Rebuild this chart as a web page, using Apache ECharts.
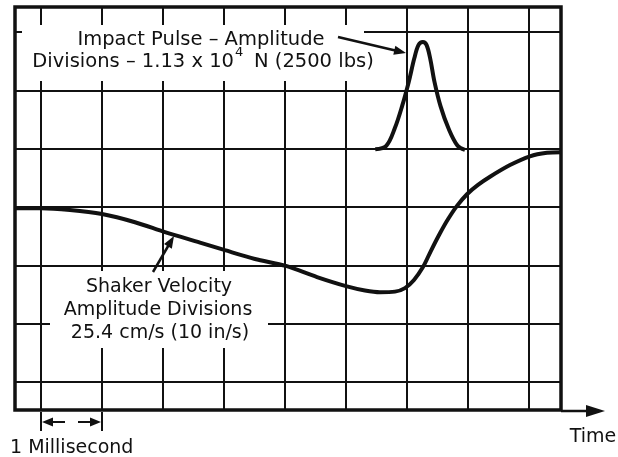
<!DOCTYPE html>
<html><head><meta charset="utf-8">
<script src="https://cdn.jsdelivr.net/npm/echarts@6/dist/echarts.min.js"></script>
<style>html,body{margin:0;padding:0;background:#fff}#c{width:618px;height:457px}</style>
</head><body><div id="c"></div>
<script>
// Grid divisions (oscilloscope graticule)
const gridX = [0, 1, 2, 3, 4, 5, 6, 7, 8];
const gridY = [0, 1, 2, 3, 4, 5, 6];

// Shaker velocity trace (time in ms divisions, amplitude in divisions)
const velX = [-0.426, 0, 0.475, 1.0, 1.541, 2.033, 2.607, 3.016, 3.508, 4.016, 4.525, 5.016, 5.311, 5.557, 5.803, 5.967, 6.115, 6.262, 6.393, 6.541, 6.672, 6.820, 6.984, 7.164, 7.361, 7.689, 8.016, 8.295, 8.525];
const velY = [2.98, 2.98, 2.95, 2.88, 2.74, 2.57, 2.39, 2.26, 2.11, 1.99, 1.80, 1.64, 1.57, 1.54, 1.55, 1.61, 1.75, 1.97, 2.25, 2.55, 2.79, 3.02, 3.22, 3.38, 3.52, 3.72, 3.87, 3.93, 3.94];

// Impact pulse trace
const pulseX = [5.48, 5.66, 5.80, 5.92, 6.03, 6.12, 6.19, 6.26, 6.32, 6.38, 6.45, 6.55, 6.68, 6.83, 6.95];
const pulseY = [3.99, 4.05, 4.35, 4.73, 5.15, 5.55, 5.78, 5.83, 5.78, 5.55, 5.15, 4.73, 4.35, 4.05, 3.98];

// Texts
const pulseLine1 = 'Impact Pulse – Amplitude';
const pulseLine2a = 'Divisions – 1.13 x 10';
const pulseExp = '4';
const pulseLine2b = 'N (2500 lbs)';
const velLines = ['Shaker Velocity', 'Amplitude Divisions', '25.4 cm/s (10 in/s)'];
const scaleText = '1 Millisecond';
const axisText = 'Time';

const INK = '#111';
const FONT = '"DejaVu Sans", sans-serif';

function arrow(x1, y1, x2, y2, len, hw, width) {
  const dx = x2 - x1, dy = y2 - y1, d = Math.hypot(dx, dy);
  const ux = dx / d, uy = dy / d;
  const bx = x2 - ux * len, by = y2 - uy * len;
  return [
    { type: 'line', z: 20, shape: { x1: x1, y1: y1, x2: bx + ux * 1, y2: by + uy * 1 }, style: { stroke: INK, lineWidth: width } },
    { type: 'polygon', z: 20, shape: { points: [[x2, y2], [bx - uy * hw, by + ux * hw], [bx + uy * hw, by - ux * hw]] }, style: { fill: INK } }
  ];
}
function txt(s, x, y, align, size) {
  return { type: 'text', z: 20, style: { text: s, x: x, y: y, fill: INK, fontSize: size || 19, fontFamily: FONT, align: align || 'center', verticalAlign: 'middle' } };
}

const elements = [
  { type: 'rect', z: 10, shape: { x: 22, y: 25, width: 342, height: 56 }, style: { fill: '#fff' } },
  { type: 'rect', z: 10, shape: { x: 50, y: 271, width: 218, height: 77 }, style: { fill: '#fff' } },
  txt(pulseLine1, 201, 40, 'center', 19.5),
  txt(pulseLine2a, 234, 62, 'right', 19.5),
  txt(pulseExp, 235, 53, 'left', 13),
  txt(pulseLine2b, 254, 62, 'left', 19.5),
  txt(velLines[0], 159, 287),
  txt(velLines[1], 158, 310),
  txt(velLines[2], 160, 333),
  txt(scaleText, 10, 448, 'left'),
  txt(axisText, 593, 437, 'center', 19),
  { type: 'line', z: 20, shape: { x1: 41, y1: 412, x2: 41, y2: 431 }, style: { stroke: INK, lineWidth: 2 } },
  { type: 'line', z: 20, shape: { x1: 102, y1: 412, x2: 102, y2: 431 }, style: { stroke: INK, lineWidth: 2 } },
  { type: 'line', z: 20, shape: { x1: 561, y1: 411, x2: 590, y2: 411 }, style: { stroke: INK, lineWidth: 2.5 } },
  { type: 'polygon', z: 20, shape: { points: [[586, 405], [605, 411], [586, 417]] }, style: { fill: INK } }
].concat(
  arrow(338, 37, 406, 53, 12, 4.5, 2.5),
  arrow(153, 272, 174, 236, 12, 4.5, 2.5),
  arrow(65, 422, 42, 422, 11, 4.5, 2),
  arrow(78, 422, 101, 422, 11, 4.5, 2)
);

const gridLines = gridX.map(v => ({ xAxis: v })).concat(gridY.map(v => ({ yAxis: v })));

const chart = echarts.init(document.getElementById('c'), null, { renderer: 'canvas' });
chart.setOption({
  animation: false,
  backgroundColor: '#fff',
  grid: { left: 15, right: 57, top: 7, bottom: 47, show: true, borderColor: INK, borderWidth: 3.5, backgroundColor: '#fff' },
  xAxis: { type: 'value', min: -0.426, max: 8.525, axisLine: { show: false }, axisTick: { show: false }, axisLabel: { show: false }, splitLine: { show: false } },
  yAxis: { type: 'value', min: -0.48, max: 6.43, axisLine: { show: false }, axisTick: { show: false }, axisLabel: { show: false }, splitLine: { show: false } },
  series: [
    { name: 'Shaker Velocity', type: 'line', z: 3, smooth: 0.3, symbol: 'none',
      data: velX.map((x, i) => [x, velY[i]]),
      lineStyle: { color: INK, width: 4 },
      markLine: { silent: true, symbol: ['none', 'none'], label: { show: false }, lineStyle: { color: INK, width: 2, type: 'solid' }, emphasis: { disabled: true }, data: gridLines } },
    { name: 'Impact Pulse', type: 'line', z: 3, smooth: 0.35, symbol: 'none',
      data: pulseX.map((x, i) => [x, pulseY[i]]),
      lineStyle: { color: INK, width: 4 } }
  ],
  graphic: { elements: elements }
});
</script></body></html>
